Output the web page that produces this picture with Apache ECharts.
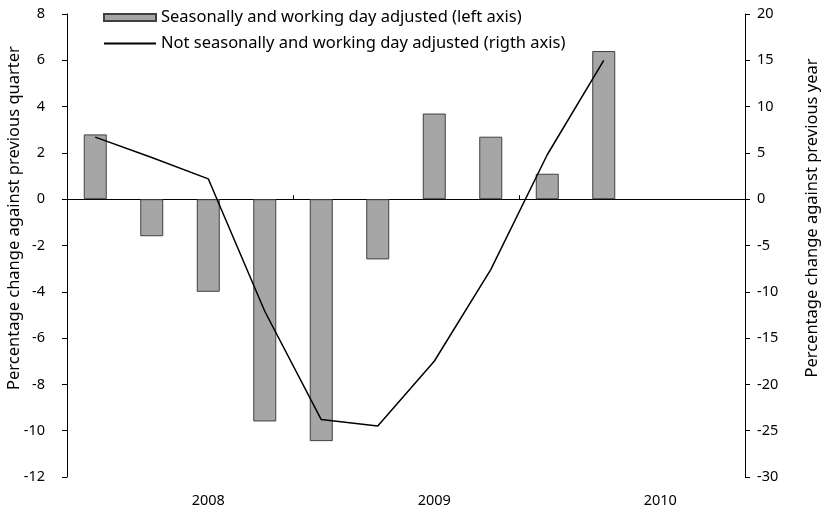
<!DOCTYPE html>
<html>
<head>
<meta charset="utf-8">
<script src="https://cdn.jsdelivr.net/npm/echarts@6/dist/echarts.min.js"></script>
<style>
  html, body { margin: 0; padding: 0; background: #fff; }
  #chart { width: 824px; height: 521px; }
</style>
</head>
<body>
<div id="chart"></div>
<script>
const quarters = ["2008Q1", "2008Q2", "2008Q3", "2008Q4", "2009Q1", "2009Q2", "2009Q3", "2009Q4", "2010Q1", "2010Q2", "2010Q3", "2010Q4"]
const yearLabels = ["", "", "2008", "", "", "", "2009", "", "", "", "2010", ""]
// quarter on quarter, left axis
const adjusted = [2.8, -1.6, -4.0, -9.6, -10.45, -2.6, 3.7, 2.7, 1.1, 6.4, null, null]
// year on year, right axis
const unadjusted = [6.7, 4.5, 2.2, -12.1, -23.8, -24.5, -17.5, -7.6, 4.8, 15.0, null, null]
const leftName = "Percentage change against previous quarter"
const rightName = "Percentage change against previous year"

const font = "Noto Sans"
const chart = echarts.init(document.getElementById("chart"))

const axisNameStyle = { fontFamily: font, fontSize: 16.5, fill: "#000", align: "center", verticalAlign: "middle" }

chart.setOption({
  animation: false,
  textStyle: { fontFamily: font, color: "#000" },
  grid: { left: 67, right: 79, top: 14, bottom: 44, outerBoundsMode: "none", containLabel: false },
  legend: {
    orient: "vertical",
    left: 103,
    top: 9,
    padding: 0,
    itemWidth: 52,
    itemHeight: 7,
    itemGap: 9,
    textStyle: { fontFamily: font, fontSize: 16.5, color: "#000" },
    data: [
      { name: "Seasonally and working day adjusted (left axis)", icon: "rect" },
      { name: "Not seasonally and working day adjusted (rigth axis)", itemStyle: { opacity: 0 } }
    ]
  },
  graphic: [
    { type: "text", x: 14, y: 218, rotation: Math.PI / 2, style: Object.assign({ text: leftName }, axisNameStyle) },
    { type: "text", x: 812, y: 218, rotation: Math.PI / 2, style: Object.assign({ text: rightName }, axisNameStyle) }
  ],
  xAxis: [
    {
      type: "category",
      data: quarters,
      boundaryGap: true,
      axisLine: { onZero: true, lineStyle: { color: "#000", width: 1 } },
      axisTick: { show: true, length: 4, inside: true, interval: (i) => i % 4 === 0, lineStyle: { color: "#000" } },
      axisLabel: { show: false }
    },
    {
      type: "category",
      data: yearLabels,
      position: "bottom",
      axisLine: { show: false, onZero: false },
      axisTick: { show: false },
      axisLabel: { interval: 0, margin: 16, fontSize: 14.5, color: "#000", fontFamily: font }
    }
  ],
  yAxis: [
    {
      type: "value",
      min: -12,
      max: 8,
      interval: 2,
      axisLine: { show: true, lineStyle: { color: "#000" } },
      axisTick: { show: true, length: 5, lineStyle: { color: "#000" } },
      axisLabel: { fontSize: 14.5, color: "#000", margin: 22, fontFamily: font },
      splitLine: { show: false }
    },
    {
      type: "value",
      min: -30,
      max: 20,
      interval: 5,
      axisLine: { show: true, lineStyle: { color: "#000" } },
      axisTick: { show: true, length: 5, lineStyle: { color: "#000" } },
      axisLabel: { fontSize: 14.5, color: "#000", margin: 12, fontFamily: font },
      splitLine: { show: false }
    }
  ],
  series: [
    {
      name: "Seasonally and working day adjusted (left axis)",
      type: "bar",
      xAxisIndex: 0,
      yAxisIndex: 0,
      data: adjusted,
      barWidth: 23,
      itemStyle: { color: "#a6a6a6", borderColor: "#404040", borderWidth: 1 }
    },
    {
      name: "Not seasonally and working day adjusted (rigth axis)",
      type: "line",
      xAxisIndex: 0,
      yAxisIndex: 1,
      data: unadjusted,
      symbol: "none",
      lineStyle: { color: "#000", width: 1.5 },
      itemStyle: { color: "#000" }
    }
  ]
})
</script>
</body>
</html>
